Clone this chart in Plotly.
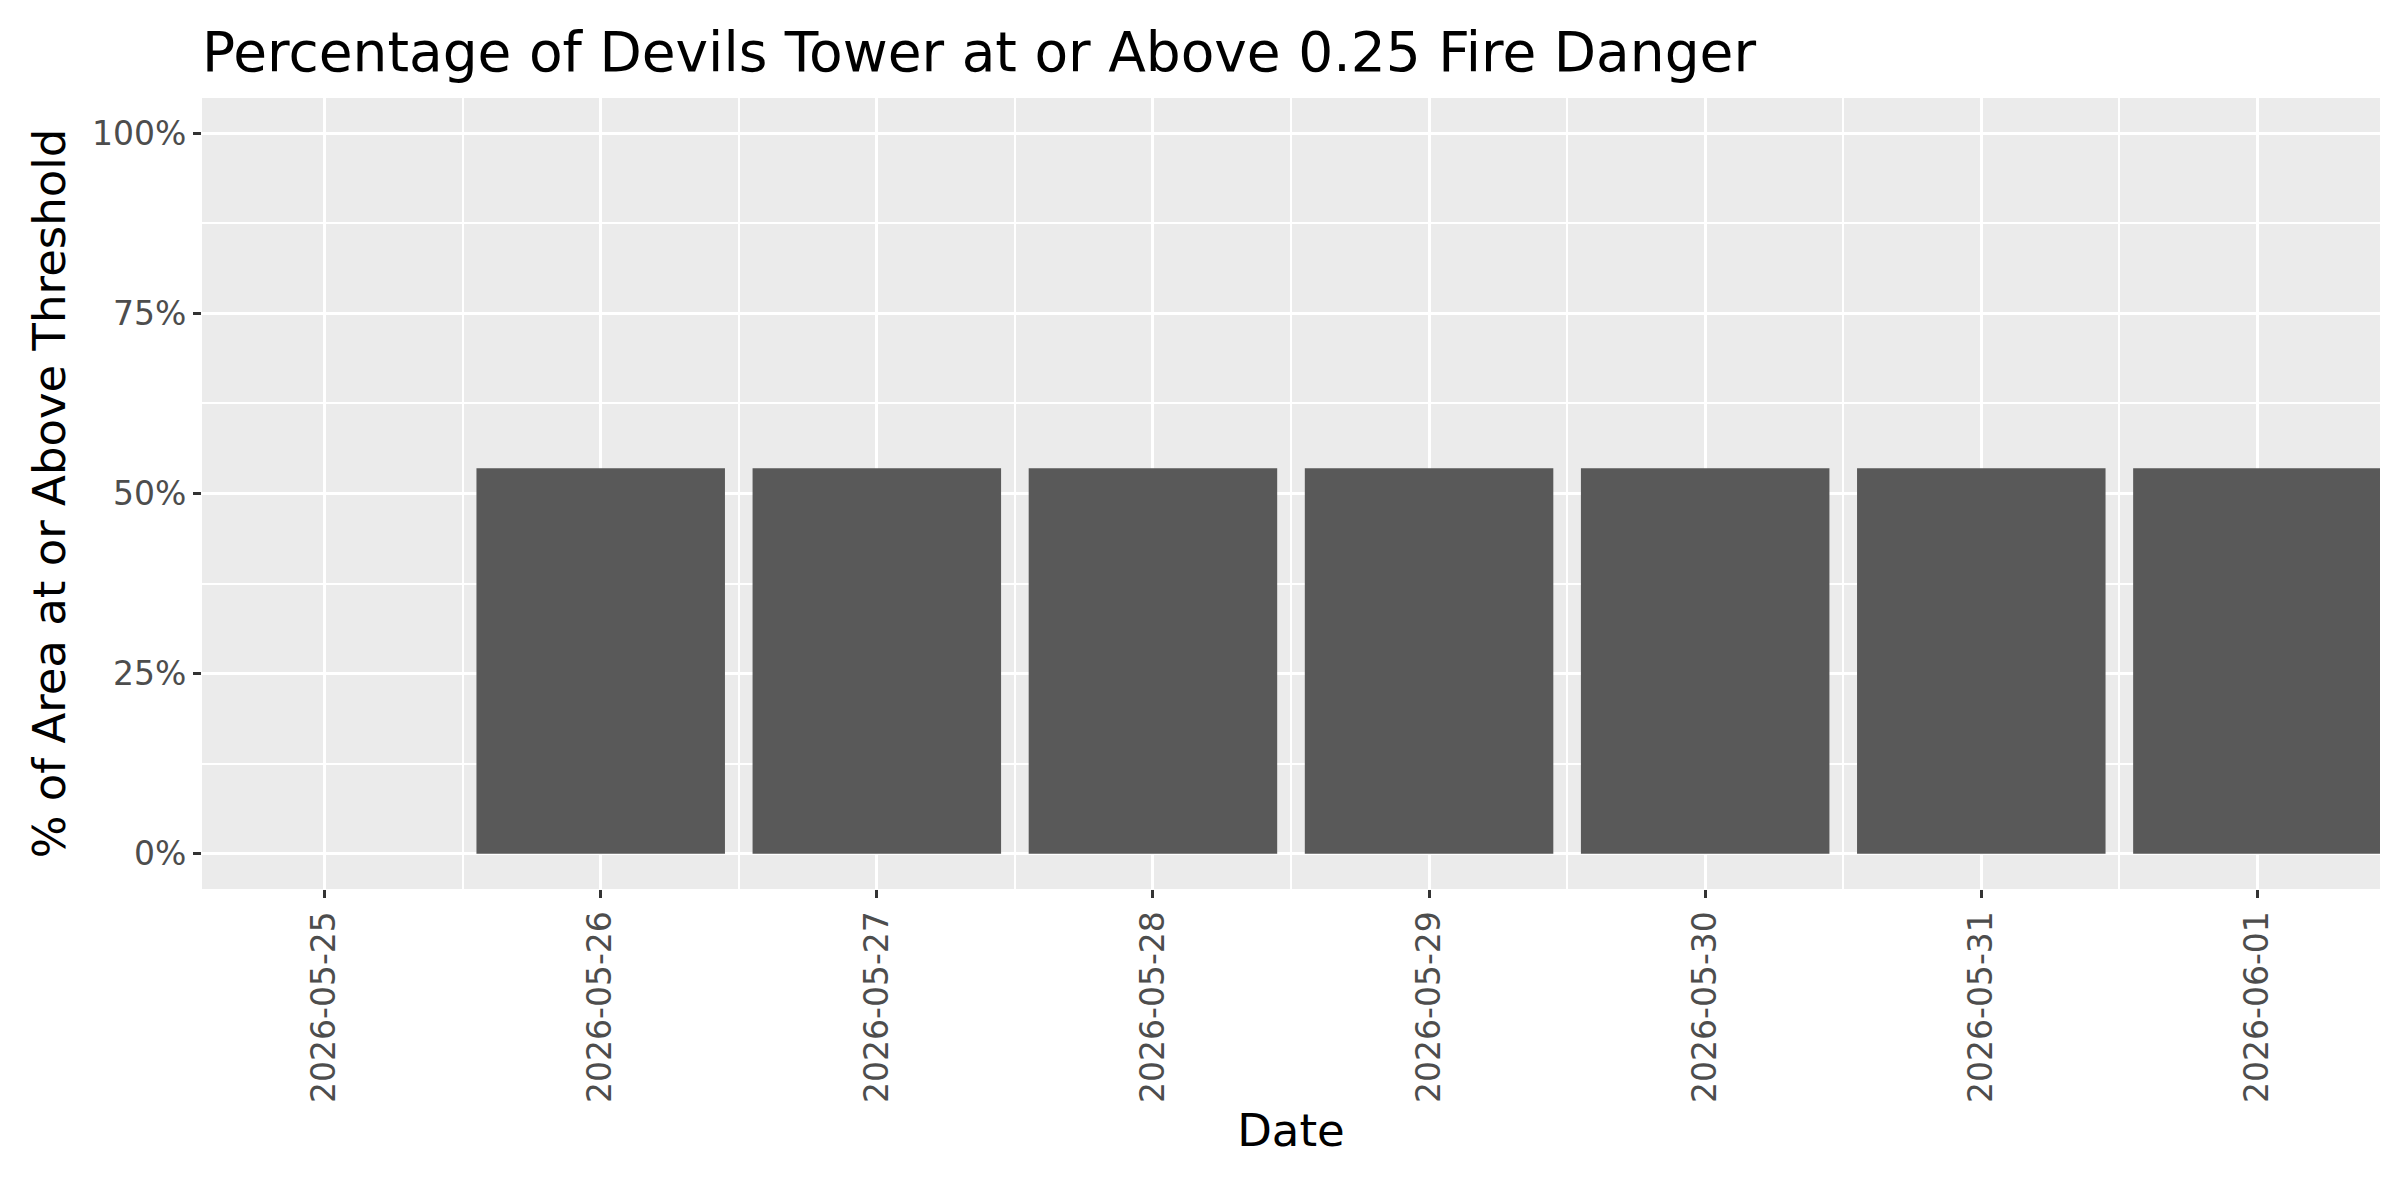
import plotly.graph_objects as go

dates = ["2026-05-25","2026-05-26","2026-05-27","2026-05-28","2026-05-29","2026-05-30","2026-05-31","2026-06-01"]
pct = [0, 53.5, 53.5, 53.5, 53.5, 53.5, 53.5, 53.5]
y_ticks = [0, 25, 50, 75, 100]
y_labels = ["0%", "25%", "50%", "75%", "100%"]

xs = list(range(len(dates)))
fig = go.Figure(go.Bar(x=xs, y=pct, width=0.9, marker=dict(color="#595959", line=dict(width=0)), hoverinfo="skip"))

font = "DejaVu Sans"
fig.update_layout(
    width=2400, height=1200, plot_bgcolor="#EBEBEB", paper_bgcolor="white",
    margin=dict(l=194, r=28, t=90, b=319), showlegend=False,
    font=dict(family=font, color="#4D4D4D", size=33),
    title=dict(text="Percentage of Devils Tower at or Above 0.25 Fire Danger", x=194/2400, xanchor="left",
               y=1-44/1200, yanchor="middle", font=dict(size=55, color="black")),
)
fig.update_xaxes(range=[-0.444, len(dates)-1+0.444], tickmode="array", tickvals=xs, ticktext=dates,
                 tickangle=-90, showgrid=True, gridcolor="white", gridwidth=3, zeroline=False,
                 ticks="outside", ticklen=8, tickwidth=2.5, tickcolor="#333333",
                 minor=dict(tickvals=[i+0.5 for i in range(-1, len(dates))], showgrid=True, gridcolor="white", gridwidth=1.5, ticks=""),
                 title=dict(text="Date", font=dict(size=45, color="black"), standoff=12))
fig.update_yaxes(range=[-4.9, 104.9], tickmode="array", tickvals=y_ticks, ticktext=y_labels,
                 showgrid=True, gridcolor="white", gridwidth=3, zeroline=False,
                 ticks="outside", ticklen=8, tickwidth=2.5, tickcolor="#333333",
                 minor=dict(tickvals=[12.5, 37.5, 62.5, 87.5], showgrid=True, gridcolor="white", gridwidth=1.5, ticks=""),
                 title=dict(text="% of Area at or Above Threshold", font=dict(size=45, color="black"), standoff=12))
fig.write_html("out.html")
